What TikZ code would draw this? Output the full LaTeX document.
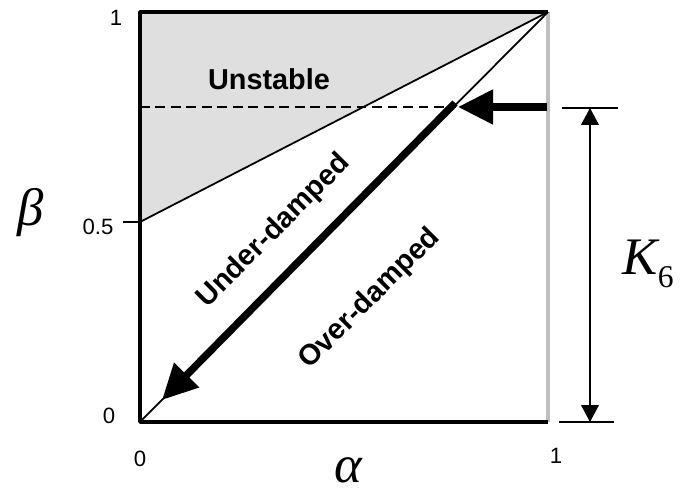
\documentclass[tikz,border=0pt]{standalone}
\usepackage{fontspec}
\setmainfont{Liberation Sans}
\newfontfamily\timesfont{Liberation Serif}
\usetikzlibrary{arrows.meta}

\begin{document}
\begin{tikzpicture}[x=0.01cm, y=-0.01cm,
  marco/.style={line width=1pt, line join=round},
  fina/.style={line width=0.5pt},
  flecha/.style={line width=2.1pt, -{Triangle[length=10pt,width=9.5pt]}},
  cota/.style={line width=0.5pt, {Triangle[length=4.8pt,width=5pt]}-{Triangle[length=4.8pt,width=5pt]}},
  num/.style={font=\fontsize{6.3}{7}\selectfont, inner sep=0pt},
  zona/.style={font=\bfseries\fontsize{8.2}{9}\selectfont, inner sep=0pt},
  simb/.style={font=\timesfont\itshape\fontsize{15}{16}\selectfont, inner sep=0pt}]
  \useasboundingbox (0,0) rectangle (684,489);

  % Esquinas
  \coordinate (O) at (140,422);    % origen
  \coordinate (A) at (548,422);    % alfa = 1
  \coordinate (B) at (548,12);     % esquina superior derecha
  \coordinate (C) at (140,12);     % beta = 1
  \coordinate (H) at (140,222);    % beta = 0.5
  \coordinate (Ht) at (123,222);

  % Zona inestable
  \fill[gray!25] (C) -- (B) -- (H) -- cycle;

  % Marco
  \draw[line width=1pt, gray!50] (A) -- (B);
  \draw[marco] (B) -- (C) -- (O) -- (A);
  \draw[line width=0.6pt] (Ht) -- (H);
  \draw[fina] (H) -- (B);
  \draw[fina] (O) -- (B);

  % Nivel K6
  \coordinate (L) at (140,107);
  \coordinate (D) at (456,107);
  \coordinate (R) at (547,107);
  \coordinate (P) at (458,107);
  \draw[fina, dash pattern=on 2.8pt off 1.6pt] (L) -- (D);
  \draw[flecha] (R) -- (P);

  % Trayectoria
  \coordinate (S) at (455,103);
  \coordinate (E) at (162,400);
  \draw[flecha] (S) -- (E);

  % Cota
  \coordinate (Kt) at (590,108);
  \coordinate (Kb) at (590,422);
  \coordinate (Kt1) at (562,108);
  \coordinate (Kt2) at (618,108);
  \coordinate (Kb1) at (559,422);
  \coordinate (Kb2) at (614,422);
  \draw[line width=0.5pt] (Kt1) -- (Kt2);
  \draw[line width=0.5pt] (Kb1) -- (Kb2);
  \draw[cota] (Kt) -- (Kb);

  % Textos
  \node[num] (y1) at (116,18) {1};
  \node[num] (yh) at (98,227) {0.5};
  \node[num] (y0) at (109,416) {0};
  \node[num] (x0) at (140,459) {0};
  \node[num] (x1) at (556,456) {1};
  \node[simb] (beta) at (31,213) {β};
  \node[simb] (alfa) at (348,470) {α};
  \node[simb, anchor=base west] (k6) at (622,275)
    {K\raisebox{-3.7pt}{\upshape\fontsize{9}{9}\selectfont 6}};
  \node[zona] (inest) at (269,79) {Unstable};
  \node[zona, rotate=45] (sub) at (274,231) {Under-damped};
  \node[zona, rotate=45] (sobre) at (370,299) {Over-damped};
\end{tikzpicture}
\end{document}
